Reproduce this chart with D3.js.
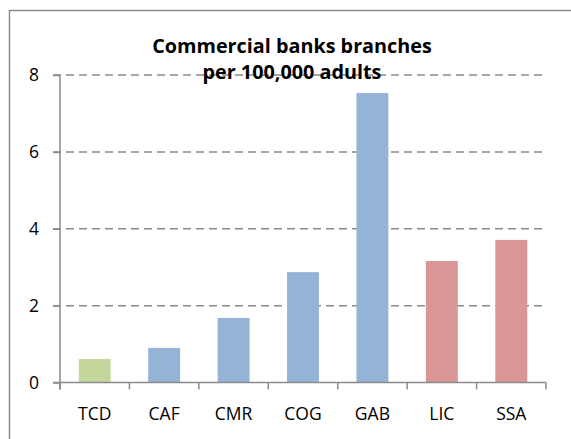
<!DOCTYPE html>
<html>
<head>
<meta charset="utf-8">
<script src="https://cdn.jsdelivr.net/npm/d3@7"></script>
<style>
  html, body { margin: 0; padding: 0; background: #fff; }
  svg { display: block; }
  text { font-family: "Open Sans", "Noto Sans", sans-serif; fill: #000; }
</style>
</head>
<body>
<svg id="chart" width="571" height="439"></svg>
<script>
// Commercial bank branches per 100,000 adults
const categories = ["TCD", "CAF", "CMR", "COG", "GAB", "LIC", "SSA"];
const values = [0.61, 0.90, 1.68, 2.87, 7.53, 3.16, 3.71];
const groups = ["focus", "peer", "peer", "peer", "peer", "aggregate", "aggregate"];
const yTicks = [0, 2, 4, 6, 8];
const titleLines = ["Commercial banks branches", "per 100,000 adults"];

const groupColor = { focus: "#C3D69B", peer: "#95B3D7", aggregate: "#D99694" };

const svg = d3.select("#chart");
const W = 571, H = 439;
const plot = { left: 60, right: 546, top: 75, bottom: 382.5 };
const labelSize = "17.5px";

// Outer chart frame
svg.append("rect")
  .attr("x", 9.5).attr("y", 10.5)
  .attr("width", W).attr("height", H)
  .attr("fill", "none").attr("stroke", "#8c8c8c").attr("stroke-width", 1.5);

const x = d3.scaleBand()
  .domain(categories)
  .range([plot.left, plot.right])
  .paddingInner(0.54)
  .paddingOuter(0.27);

const y = d3.scaleLinear()
  .domain([0, 8])
  .range([plot.bottom, plot.top]);

// Dashed horizontal gridlines
svg.append("g")
  .selectAll("line")
  .data(yTicks.filter(d => d > 0))
  .join("line")
  .attr("x1", plot.left - 7).attr("x2", plot.right)
  .attr("y1", d => y(d)).attr("y2", d => y(d))
  .attr("stroke", "#8a8a8a").attr("stroke-width", 1.5)
  .attr("stroke-dasharray", "8,5");

// Bars
svg.append("g")
  .selectAll("rect")
  .data(categories.map((c, i) => ({ c, v: values[i], g: groups[i] })))
  .join("rect")
  .attr("x", d => x(d.c))
  .attr("width", x.bandwidth())
  .attr("y", d => y(d.v))
  .attr("height", d => y(0) - y(d.v))
  .attr("fill", d => groupColor[d.g]);

// Y axis
const yAxis = svg.append("g")
  .attr("transform", `translate(${plot.left},0)`)
  .call(d3.axisLeft(y).tickValues(yTicks).tickSize(7).tickPadding(14).tickSizeOuter(0));
yAxis.select(".domain").attr("stroke", "#8a8a8a").attr("stroke-width", 1.5)
  .attr("d", `M0,${plot.top}V${plot.bottom + 7}`);
yAxis.selectAll(".tick line").attr("stroke", "#8a8a8a").attr("stroke-width", 1.5);
yAxis.selectAll(".tick text").style("font-size", labelSize).attr("fill", "#000");

// X axis with ticks between categories
const xAxis = svg.append("g").attr("transform", `translate(0,${plot.bottom})`);
xAxis.append("line")
  .attr("x1", plot.left - 7).attr("x2", plot.right)
  .attr("stroke", "#8a8a8a").attr("stroke-width", 1.5);
const step = x.step();
xAxis.selectAll(".sep")
  .data(d3.range(categories.length + 1))
  .join("line")
  .attr("class", "sep")
  .attr("x1", i => plot.left + i * step).attr("x2", i => plot.left + i * step)
  .attr("y1", 0).attr("y2", 7)
  .attr("stroke", "#8a8a8a").attr("stroke-width", 1.5);
xAxis.selectAll(".lab")
  .data(categories)
  .join("text")
  .attr("class", "lab")
  .attr("x", d => x(d) + x.bandwidth() / 2)
  .attr("y", 37)
  .attr("text-anchor", "middle")
  .style("font-size", labelSize)
  .text(d => d);

// Title
const title = svg.append("text")
  .attr("x", 292).attr("text-anchor", "middle")
  .style("font-size", "19.8px").style("font-weight", "bold");
title.selectAll("tspan")
  .data(titleLines)
  .join("tspan")
  .attr("x", 292)
  .attr("y", (d, i) => 53 + i * 26)
  .text(d => d);
</script>
</body>
</html>
